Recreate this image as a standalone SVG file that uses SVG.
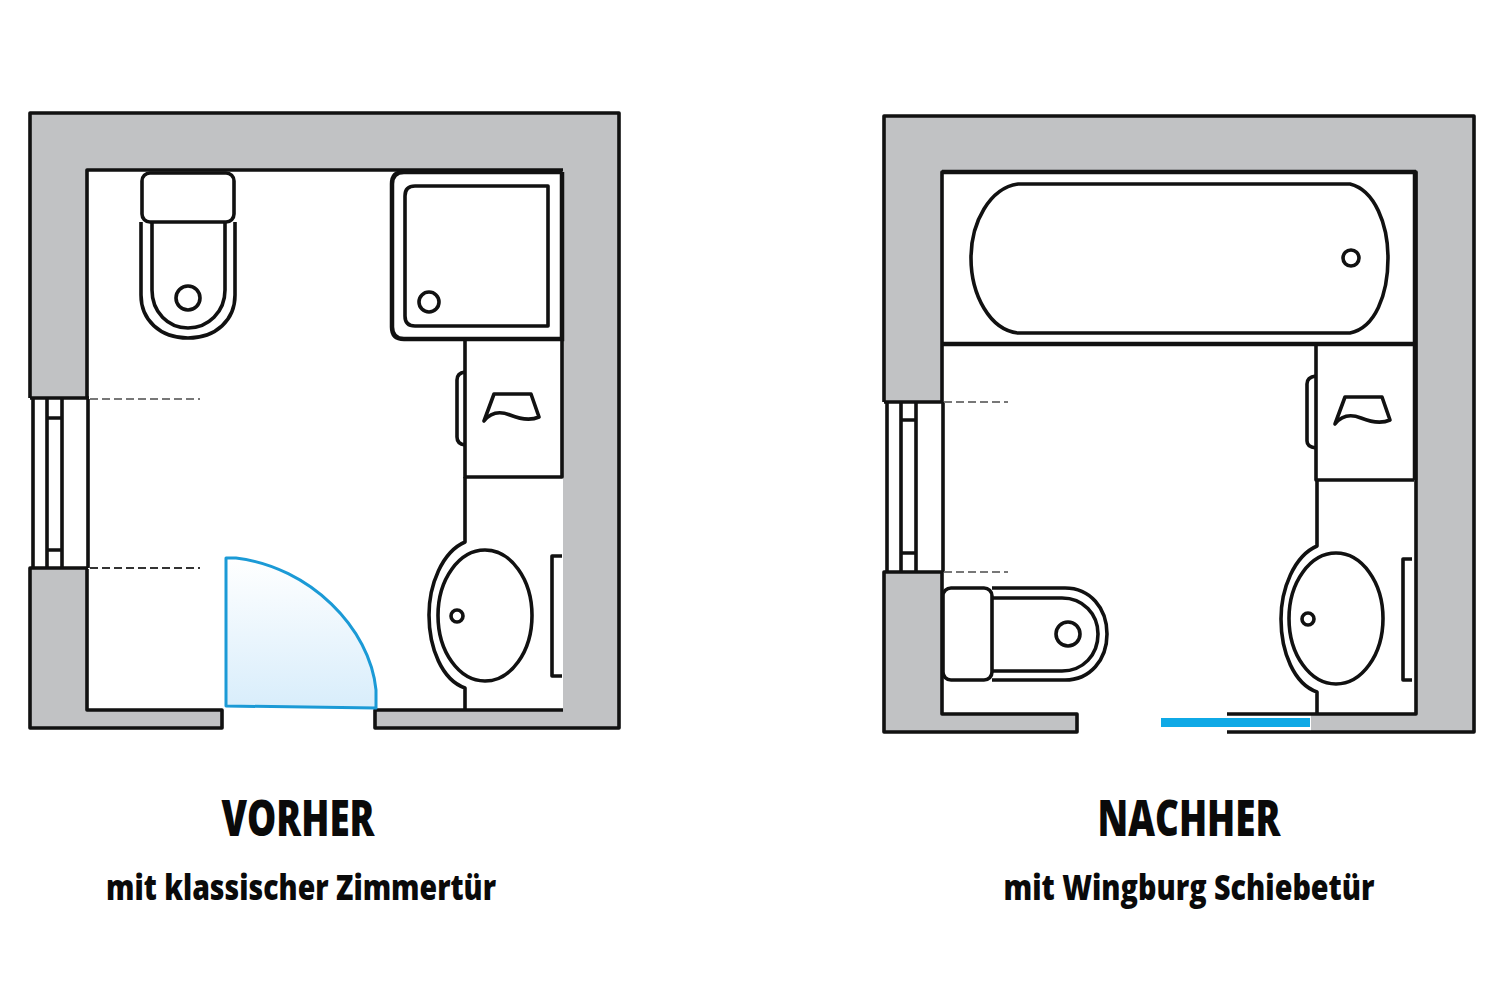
<svg xmlns="http://www.w3.org/2000/svg" width="1500" height="1000" viewBox="0 0 1500 1000">
<style>
.wall{fill:#c1c2c4;stroke:none}
.ln{fill:none;stroke:#111;stroke-width:3.600;stroke-linejoin:round}
.lw{fill:#fff;stroke:#111;stroke-width:3.600;stroke-linejoin:round}
.th{fill:none;stroke:#111;stroke-width:4.500}
.dg{fill:none;stroke:#777;stroke-width:2;stroke-dasharray:8 4}
.dd{fill:none;stroke:#333;stroke-width:2;stroke-dasharray:8 4}
text{font-family:"Open Sans","Liberation Sans",sans-serif;font-weight:800;fill:#0a0a0a;text-anchor:middle}
.h{font-size:49px}
.s{font-size:36px}
</style>
<defs>
<linearGradient id="doorFill" x1="0" y1="0" x2="0" y2="1"><stop offset="0" stop-color="#fff"/><stop offset="1" stop-color="#d8edfb"/></linearGradient>
<path id="towel" d="M484,421 L494,394 H531 L539,417 C530,421 520,419 510,415 C500,411 491,412 484,421Z"/>
</defs>
<rect width="1500" height="1000" fill="#fff"/>
<g id="room-vorher">
<path class="wall" d="M30,113 H619 V728 H375 V710 H563 V170 H87 V710 H222 V728 H30 V569 H87 V398 H30Z"/>
<path class="ln" d="M87,398 V170 H563 M87,569 V710 H222 V728 H30 V568 H88 M30,398 V113 H619 V728 H375 V710 H563"/>
<path class="ln" d="M30,398 H89"/>
</g>
<g id="window-vorher">
<path class="ln" d="M33,399 V568 M47,399 V568 M62,399 V568 M88,399 V568 M47,418 H62 M47,550 H62"/>
<path class="dg" d="M90,399 H200"/><path class="dd" d="M90,568 H200"/>
</g>
<g id="toilet-vorher">
<path class="ln" d="M141,222 V295 C141,320 160,338 188,338 C216,338 235,320 235,295 V222"/>
<path class="ln" d="M152,222 V290 C152,312 168,328 188,328 C208,328 225,312 225,290 V222"/>
<rect class="lw" x="142" y="173" width="92" height="49" rx="8"/>
<circle class="ln" cx="188" cy="298" r="12"/>
</g>
<g id="shower-vorher">
<path class="th" d="M562,172 H404 Q392,172 392,184 V327 Q392,339 404,339 H562 V172"/>
<path class="ln" d="M548,186 H415 Q405,186 405,196 V316 Q405,326 415,326 H548Z"/>
<circle class="ln" cx="429" cy="302" r="10"/>
</g>
<g id="cabinet-vorher">
<path class="ln" d="M465,340 V477 H562 V340"/>
<path class="ln" d="M465,372 Q457,373 457,380 V437 Q457,444 465,445"/>
<use href="#towel" class="ln"/>
</g>
<g id="sink-vorher">
<path class="ln" d="M465,477 V542 C442,552 429,585 429,615 C429,648 442,680 465,688 V710"/>
<ellipse class="ln" cx="485" cy="615.500" rx="47" ry="65.500"/>
<circle class="ln" cx="457" cy="616" r="6"/>
<path class="ln" d="M562,556 H552 V676 H562"/>
</g>
<g id="door-vorher">
<path d="M226,706 V558 H236 C310,567 370,628 376,690 V708Z" fill="url(#doorFill)" stroke="#1b9ad6" stroke-width="3" stroke-linejoin="round"/>
</g>
<g id="room-nachher">
<path class="wall" d="M884,116 H1474 V732 H1311 V714 H1416 V172 H941 V714 H1077 V732 H884 V572 H941 V402 H884Z"/>
<path class="ln" d="M942,402 V172 H1416 V714 H1227 M942,572 V714 H1077 V732 H884 V572 H943 M884,402 V116 H1474 V732 H1227 M884,402 H943"/>
</g>
<g id="window-nachher">
<path class="ln" d="M887,402 V572 M901,402 V572 M916,402 V572 M943,402 V572 M901,420 H916 M901,553 H916"/>
<path class="dg" d="M944,402 H1008"/><path class="dg" d="M944,572 H1008"/>
</g>
<g id="bathtub-nachher">
<path class="th" d="M942,172 H1416 M942,344 H1414 M1415,172 V480"/>
<path class="ln" d="M1018,184 H1350 C1375,190 1388,225 1388,258 C1388,295 1375,328 1350,333 H1018 C990,330 971,295 971,258 C971,222 990,188 1018,184Z"/>
<circle class="ln" cx="1351" cy="258" r="8"/>
</g>
<g id="cabinet-nachher">
<path class="ln" d="M1316,344 V480 H1414"/>
<path class="ln" d="M1316,376 Q1307,377 1307,384 V441 Q1307,447 1316,448"/>
<use href="#towel" class="ln" x="851" y="3"/>
</g>
<g id="sink-nachher">
<path class="ln" d="M1317,480 V546 C1294,556 1281,589 1281,619 C1281,652 1294,684 1317,692 V714"/>
<ellipse class="ln" cx="1336" cy="618.500" rx="47" ry="65.500"/>
<circle class="ln" cx="1308" cy="619" r="6"/>
<path class="ln" d="M1412,559 H1403 V680 H1412"/>
</g>
<g id="toilet-nachher">
<path class="ln" d="M992,588 H1065 C1090,588 1107,608 1107,634 C1107,660 1090,680 1065,680 H992"/>
<path class="ln" d="M992,598 H1062 C1083,598 1098,614 1098,634 C1098,655 1083,671 1062,671 H992"/>
<rect class="lw" x="943" y="588" width="49" height="92" rx="8"/>
<circle class="ln" cx="1068" cy="634" r="12"/>
</g>
<g id="door-nachher">
<rect x="1161" y="718" width="149" height="9" fill="#0fa9e6"/>
</g>
<g id="labels">
<text class="h" x="298" y="836" textLength="153" lengthAdjust="spacingAndGlyphs">VORHER</text>
<text class="s" x="301" y="900" textLength="390" lengthAdjust="spacingAndGlyphs">mit klassischer Zimmertür</text>
<text class="h" x="1189" y="836" textLength="183" lengthAdjust="spacingAndGlyphs">NACHHER</text>
<text class="s" x="1189" y="900" textLength="371" lengthAdjust="spacingAndGlyphs">mit Wingburg Schiebetür</text>
</g>
</svg>
